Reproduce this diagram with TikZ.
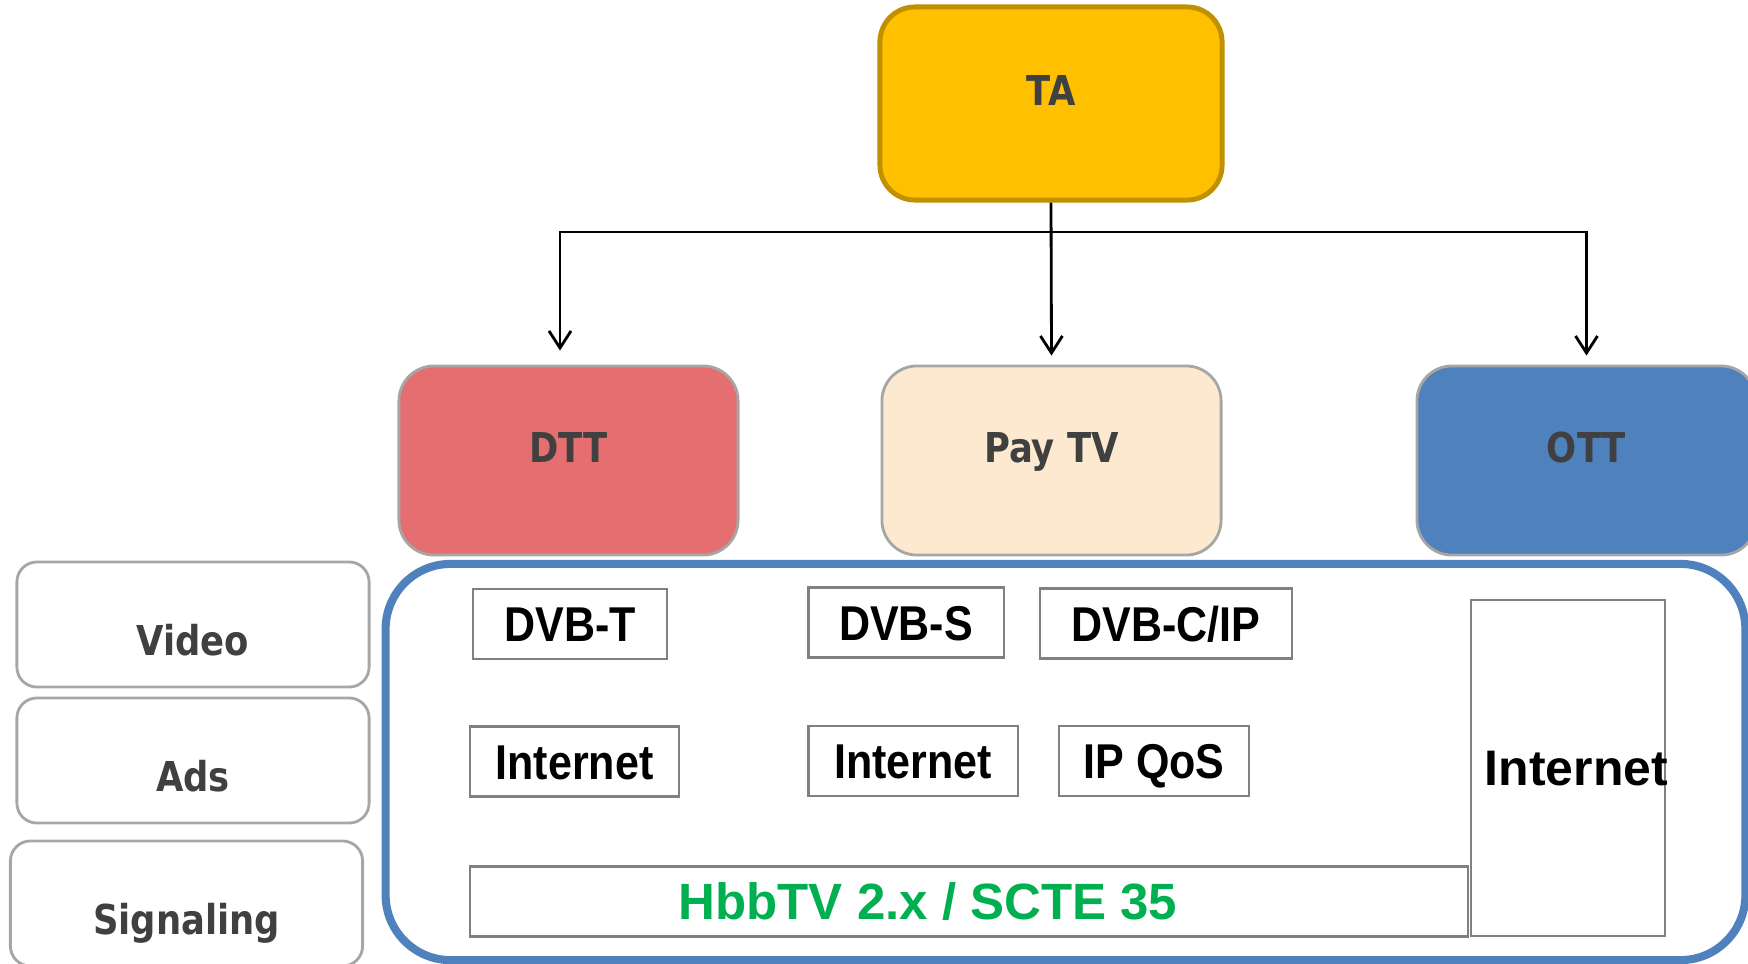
\documentclass[tikz,border=0pt]{standalone}
\usepackage{fontspec}
\newfontfamily\lblfont[FakeStretch=0.86]{DejaVu Sans}
\newfontfamily\boxfont[FakeStretch=0.88]{Liberation Sans}
\newfontfamily\plainfont{Liberation Sans}
\definecolor{tagold}{HTML}{FFC000}
\definecolor{tagoldline}{HTML}{BF9000}
\definecolor{dttred}{HTML}{E56F70}
\definecolor{paybeige}{HTML}{FDE9D0}
\definecolor{ottblue}{HTML}{4F81BD}
\definecolor{edgegray}{HTML}{A6A6A6}
\definecolor{boxline}{HTML}{808080}
\definecolor{darktext}{HTML}{404040}
\definecolor{hbbgreen}{HTML}{00B050}
\usetikzlibrary{arrows.meta}

\begin{document}
\begin{tikzpicture}[x=0.01cm, y=-0.01cm,
    >={Straight Barb[length=1.7mm,width=2.2mm]},
    service/.style={draw=edgegray, line width=0.8pt, rounded corners=0.35cm,
                    minimum width=3.39cm, minimum height=1.89cm, text=darktext,
                    font=\lblfont\bfseries\fontsize{11.7pt}{14pt}\selectfont,
                    text height=0.3cm, text depth=0.27cm},
    layer/.style={draw=edgegray, line width=0.8pt, rounded corners=0.2cm, fill=white,
                  minimum width=3.52cm, minimum height=1.25cm, text=darktext,
                  font=\lblfont\bfseries\fontsize{11.7pt}{14pt}\selectfont,
                  text height=0.61cm, text depth=0cm},
    tech/.style={draw=boxline, line width=0.6pt, fill=white, minimum height=0.7cm,
                 font=\boxfont\bfseries\fontsize{13.9pt}{16pt}\selectfont,
                 text height=0.35cm, text depth=0cm},
    link/.style={->, line width=0.8pt}]

  \useasboundingbox (0,0) rectangle (1748,963);
  \clip (0,0) rectangle (1748,963);

  % top level and delivery platforms
  \node[service, fill=tagold, draw=tagoldline, line width=1.4pt,
        minimum width=3.42cm, minimum height=1.93cm] (ta) at (1051,103.5) {TA};
  \node[service, fill=dttred] (dtt) at (568.5,460.5) {DTT};
  \node[service, fill=paybeige] (paytv) at (1051.5,460.5) {Pay TV};
  \node[service, fill=ottblue] (ott) at (1586.5,460.5) {OTT};

  \coordinate (bus) at (1051,232);
  \draw[link] (ta.south) -- ([yshift=0.09cm]paytv.north);
  \draw[link] (bus) -| ([xshift=-0.085cm,yshift=0.14cm]dtt.north);
  \draw[link] (bus) -| ([yshift=0.09cm]ott.north);

  % container
  \node[draw=ottblue, line width=2.3pt, rounded corners=0.65cm,
        minimum width=13.59cm, minimum height=3.96cm] (plat) at (1065.5,762) {};

  % layers
  \node[layer] (video) at (193,624.5) {Video};
  \node[layer] (ads) at (193,760.5) {Ads};
  \node[layer] (signal) at (186.5,903.5) {Signaling};

  % technologies
  \node[tech, minimum width=1.94cm] (dvbt) at (570,624) {DVB-T};
  \node[tech, minimum width=1.95cm] (dvbs) at (906,622.5) {DVB-S};
  \node[tech, minimum width=2.52cm] (dvbc) at (1166,623.5) {DVB-C/IP};
  \node[tech, minimum width=2.09cm] (netdtt) at (574.5,761.5) {Internet};
  \node[tech, minimum width=2.09cm] (netpay) at (913,761) {Internet};
  \node[tech, minimum width=1.90cm] (ipqos) at (1154,761) {IP QoS};
  \node[tech, minimum width=9.98cm, text=hbbgreen,
        font=\plainfont\bfseries\fontsize{14.5pt}{17pt}\selectfont]
        (hbbtv) at (969,901.5) {HbbTV 2.x / SCTE 35\hspace*{0.82cm}};
  \node[tech, minimum width=1.94cm, minimum height=3.36cm,
        font=\plainfont\bfseries\fontsize{14.2pt}{17pt}\selectfont]
        (netott) at (1568,768) {\makebox[0pt]{\hspace*{0.17cm}Internet}};
\end{tikzpicture}
\end{document}
